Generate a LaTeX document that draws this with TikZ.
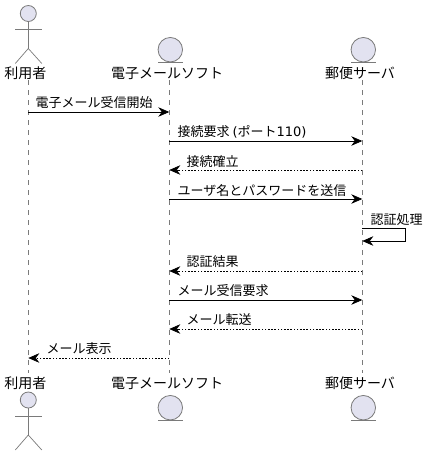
\documentclass[tikz,border=0pt]{standalone}
\usepackage{fontspec}
\setmainfont{Noto Sans CJK JP}
\newfontfamily\latinfont{DejaVu Sans}
\definecolor{partfill}{HTML}{E2E2F0}
\definecolor{partline}{HTML}{7A7A7A}
\usetikzlibrary{arrows.meta, positioning}

\begin{document}
\begin{tikzpicture}[
					x=1pt, y=-1pt,
					head/.style={circle, draw=partline, fill=partfill, line width=0.8pt, inner sep=0pt, minimum size=16pt},
					entity/.style={circle, draw=partline, fill=partfill, line width=0.8pt, inner sep=0pt, minimum size=24.5pt},
					limb/.style={draw=partline, line width=0.7pt},
					lifeline/.style={draw=partline, line width=0.6pt, dash pattern=on 5pt off 5pt},
					arrow/.style={-{Stealth[length=11pt, width=9.5pt, inset=3.5pt]}, black, line width=0.7pt},
					retarrow/.style={-{Stealth[length=11pt, width=9.5pt, inset=3.5pt]}, black, line width=0.7pt, dash pattern=on 1.6pt off 1.6pt},
					partname/.style={font=\fontsize{14}{15}\selectfont, inner sep=0pt, text=black},
					msg/.style={font=\fontsize{13}{14}\selectfont, inner sep=0pt, anchor=west, text=black}
					]
					\useasboundingbox (0,0) rectangle (428,456);
					
					% --- Lifelines ---
					\coordinate (usertop) at (28.3,80);
					\coordinate (userbot) at (28.3,373);
					\coordinate (mailtop) at (169.3,80);
					\coordinate (mailbot) at (169.3,373);
					\coordinate (servtop) at (362.3,80);
					\coordinate (servbot) at (362.3,373);
					\draw[lifeline] (usertop) -- (userbot);
					\draw[lifeline] (mailtop) -- (mailbot);
					\draw[lifeline] (servtop) -- (servbot);
					
					% --- Top participants ---
					\node[head] (userhead) at (28.3,13.5) {};
					\coordinate (userneck) at (28.3,48.5);
					\coordinate (userarml) at (15.3,29);
					\coordinate (userarmr) at (41.8,29);
					\coordinate (userlegl) at (15.3,63.5);
					\coordinate (userlegr) at (41.8,63.5);
					\draw[limb] (userhead) -- (userneck);
					\draw[limb] (userarml) -- (userarmr);
					\draw[limb] (userlegl) -- (userneck) -- (userlegr);
					\node[entity] (mailhead) at (170.3,49.7) {};
					\coordinate (mailbarl) at (158,62.7);
					\coordinate (mailbarr) at (182.6,62.7);
					\draw[limb] (mailbarl) -- (mailbarr);
					\node[entity] (servhead) at (363.3,49.7) {};
					\coordinate (servbarl) at (351,62.7);
					\coordinate (servbarr) at (375.6,62.7);
					\draw[limb] (servbarl) -- (servbarr);
					\node[partname] (username) at (25.5,73) {利用者};
					\node[partname] (mailname) at (167,73) {電子メールソフト};
					\node[partname] (servname) at (360,73) {郵便サーバ};
					
					% --- Messages ---
					\coordinate (u1) at (28.3,112);
					\coordinate (m1) at (169.3,112);
					\draw[arrow] (u1) -- (m1);
					\node[msg] (t1) at (35.5,102.5) {電子メール受信開始};
					\coordinate (m2) at (169.3,141);
					\coordinate (s2) at (362.3,141);
					\draw[arrow] (m2) -- (s2);
					\node[msg] (t2) at (177.5,131.5) {接続要求 {\latinfont (}ポート{\latinfont 110)}};
					\coordinate (s3) at (362.3,170);
					\coordinate (m3) at (169.3,170);
					\draw[retarrow] (s3) -- (m3);
					\node[msg] (t3) at (186.5,161.5) {接続確立};
					\coordinate (m4) at (169.3,199);
					\coordinate (s4) at (362.3,199);
					\draw[arrow] (m4) -- (s4);
					\node[msg] (t4) at (177.5,190.5) {ユーザ名とパスワードを送信};
					\coordinate (s5) at (362.3,228);
					\coordinate (s5b) at (362.3,241);
					\coordinate (s5c) at (405.5,228);
					\coordinate (s5d) at (405.5,241);
					\draw[arrow] (s5) -- (s5c) -- (s5d) -- (s5b);
					\node[msg] (t5) at (370.5,219.5) {認証処理};
					\coordinate (s6) at (362.3,271);
					\coordinate (m6) at (169.3,271);
					\draw[retarrow] (s6) -- (m6);
					\node[msg] (t6) at (186.5,261.5) {認証結果};
					\coordinate (m7) at (169.3,300);
					\coordinate (s7) at (362.3,300);
					\draw[arrow] (m7) -- (s7);
					\node[msg] (t7) at (177.5,290.5) {メール受信要求};
					\coordinate (s8) at (362.3,329);
					\coordinate (m8) at (169.3,329);
					\draw[retarrow] (s8) -- (m8);
					\node[msg] (t8) at (186.5,319.5) {メール転送};
					\coordinate (m9) at (169.3,358);
					\coordinate (u9) at (28.3,358);
					\draw[retarrow] (m9) -- (u9);
					\node[msg] (t9) at (46.5,348.5) {メール表示};
					
					% --- Bottom participants ---
					\node[partname] (usernameb) at (25.5,383) {利用者};
					\node[partname] (mailnameb) at (167,383) {電子メールソフト};
					\node[partname] (servnameb) at (360,383) {郵便サーバ};
					\node[head] (userheadb) at (28.3,400) {};
					\coordinate (userneckb) at (28.3,435);
					\coordinate (userarmlb) at (15.3,416);
					\coordinate (userarmrb) at (41.8,416);
					\coordinate (userleglb) at (15.3,450);
					\coordinate (userlegrb) at (41.8,450);
					\draw[limb] (userheadb) -- (userneckb);
					\draw[limb] (userarmlb) -- (userarmrb);
					\draw[limb] (userleglb) -- (userneckb) -- (userlegrb);
					\node[entity] (mailheadb) at (170.3,407.7) {};
					\coordinate (mailbarlb) at (158,420.7);
					\coordinate (mailbarrb) at (182.6,420.7);
					\draw[limb] (mailbarlb) -- (mailbarrb);
					\node[entity] (servheadb) at (363.3,407.7) {};
					\coordinate (servbarlb) at (351,420.7);
					\coordinate (servbarrb) at (375.6,420.7);
					\draw[limb] (servbarlb) -- (servbarrb);
				\end{tikzpicture}
\end{document}
